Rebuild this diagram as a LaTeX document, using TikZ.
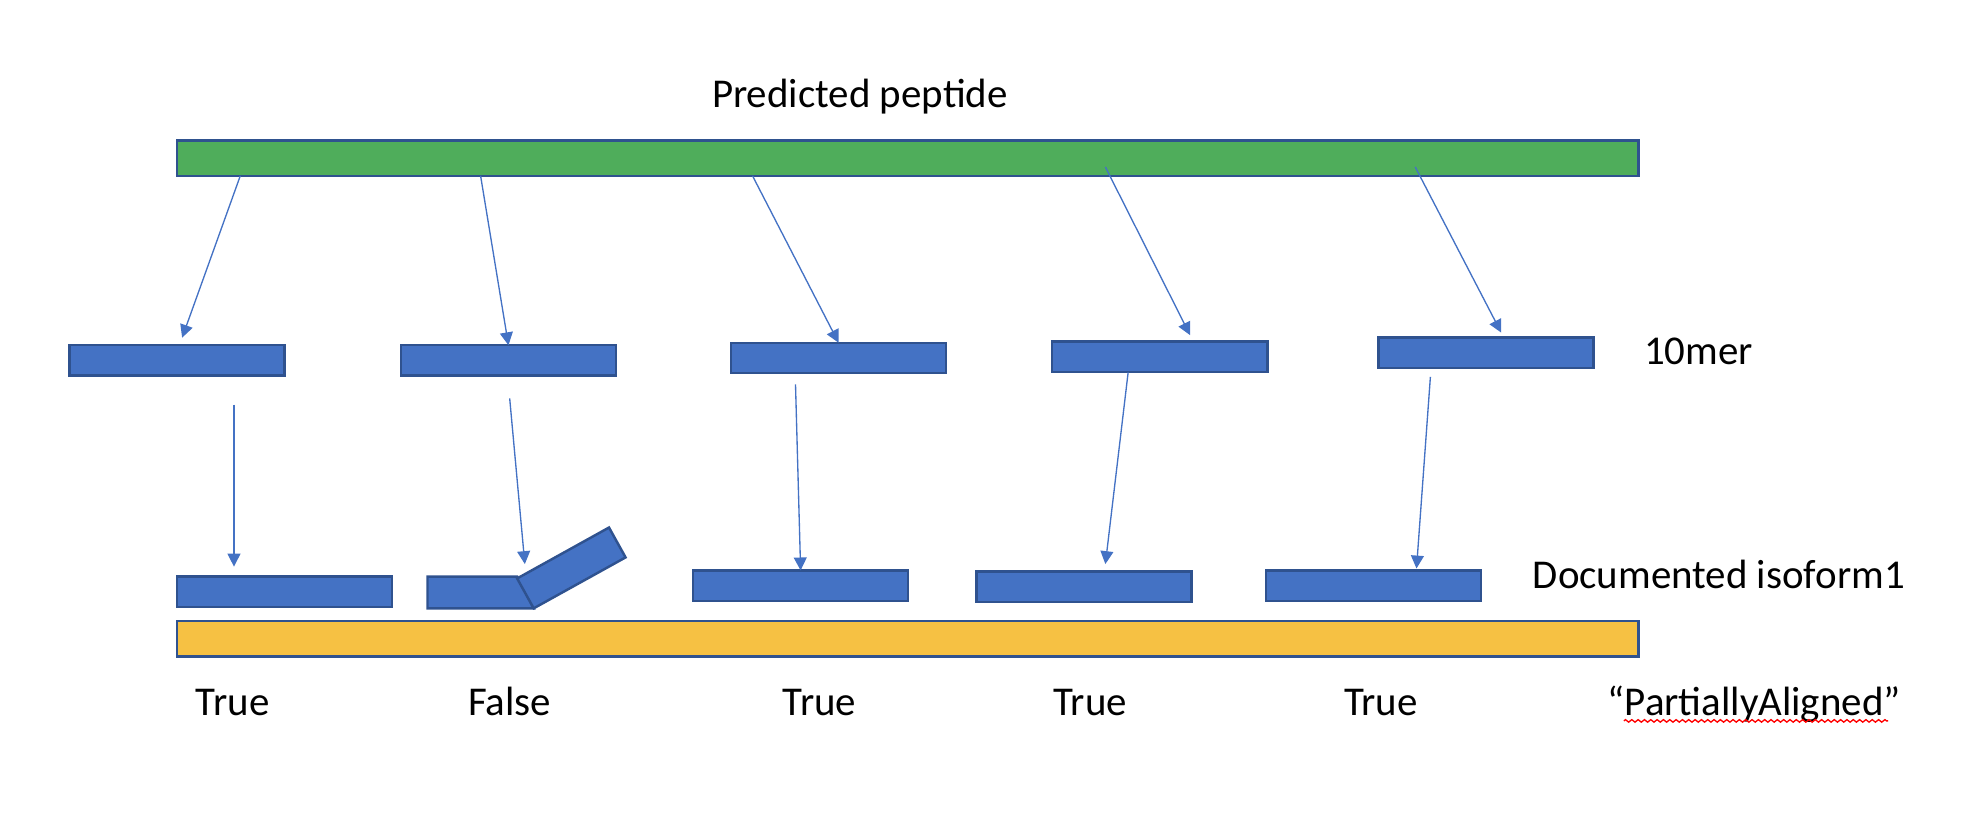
\documentclass[tikz,border=0pt]{standalone}
\usepackage{fontspec}
\setmainfont{Carlito}
\usetikzlibrary{arrows.meta}
\usetikzlibrary{positioning}
\usetikzlibrary{decorations.pathmorphing}
\definecolor{pepgreen}{HTML}{4FAD5B}
\definecolor{merblue}{HTML}{4472C4}
\definecolor{edgeblue}{HTML}{2F528F}
\definecolor{isogold}{HTML}{F6C143}

\begin{document}
\begin{tikzpicture}[x=0.01cm, y=-0.01cm, every node/.style={inner sep=0pt, outer sep=0pt}]
\tikzstyle{bar} = [rectangle, anchor=north west, minimum width=11.55cm, minimum height=0.28cm, draw=edgeblue, line width=0.55pt]
\tikzstyle{mer} = [rectangle, anchor=north west, minimum width=1.7cm, minimum height=0.24cm, draw=edgeblue, fill=merblue, line width=0.55pt]
\tikzstyle{lbl} = [font=\fontsize{9.2}{11}\selectfont, anchor=base]
\tikzstyle{arrow} = [merblue, line width=0.3pt, -{Triangle[length=2.9pt,width=2.9pt]}]

\useasboundingbox (0,0) rectangle (1564,651.5);

% Nodes
\node (peptide) [bar, fill=pepgreen] at (140,111) {};
\node (isoform) [bar, fill=isogold] at (140,491) {};
\node (m1) [mer] at (55,273) {};
\node (m2) [mer] at (317,273) {};
\node (m3) [mer] at (578,271) {};
\node (m4) [mer] at (832,270) {};
\node (m5) [mer] at (1090,267) {};
\node (d1) [mer] at (140,456) {};
\coordinate (jt) at (409,456);
\coordinate (jb) at (422,481);
\draw [fill=merblue, draw=edgeblue, line width=0.55pt] (338,456) -- (jt) -- (jb) -- (338,481) -- cycle;
\node (d2) [mer, minimum width=0.83cm, minimum height=0.27cm, rotate=29, anchor=south west] at (jb) {};
\node (d3) [mer] at (548,451) {};
\node (d4) [mer] at (772,452) {};
\node (d5) [mer] at (1001,451) {};

% Labels
\node (title) [lbl, anchor=base west] at (563,85) {Predicted peptide};
\node (merlbl) [lbl, anchor=base west] at (1300,288) {10mer};
\node (isolbl) [lbl, anchor=base west] at (1212,465) {Documented isoform1};
\node (r1) [lbl] at (184,566) {True};
\node (r2) [lbl] at (403,566) {False};
\node (r3) [lbl] at (648,566) {True};
\node (r4) [lbl] at (862,566) {True};
\node (r5) [lbl] at (1092,566) {True};
\node (r6) [lbl] at (1387,566) {“PartiallyAligned”};
\draw [red, line width=0.3pt, decorate, decoration={zigzag, segment length=0.05cm, amplitude=0.01cm}] (1284,570) -- (1493,570);

% Arrows
\coordinate (p1) at (190,139);
\coordinate (k1) at (144,267);
\coordinate (p2) at (380,139);
\coordinate (p3) at (595,139);
\coordinate (p4) at (874,132);
\coordinate (k4) at (941,265);
\coordinate (p5) at (1119,132);
\coordinate (k5) at (1187,263);
\coordinate (q1) at (185,320);
\coordinate (e1) at (185,448);
\coordinate (q2) at (403,315);
\coordinate (e2) at (415,446);
\coordinate (q3) at (629,304);
\coordinate (q4) at (892,294.5);
\coordinate (e4) at (874,446);
\coordinate (q5) at (1131,298);
\coordinate (e5) at (1120,449.5);

\draw [arrow] (p1) -- (k1);
\draw [arrow] (p2) -- (m2.north);
\draw [arrow] (p3) -- (m3.north);
\draw [arrow] (p4) -- (k4);
\draw [arrow] (p5) -- (k5);
\draw [arrow] (q1) -- (e1);
\draw [arrow] (q2) -- (e2);
\draw [arrow] (q3) -- (d3.north);
\draw [arrow] (q4) -- (e4);
\draw [arrow] (q5) -- (e5);

\end{tikzpicture}
\end{document}
